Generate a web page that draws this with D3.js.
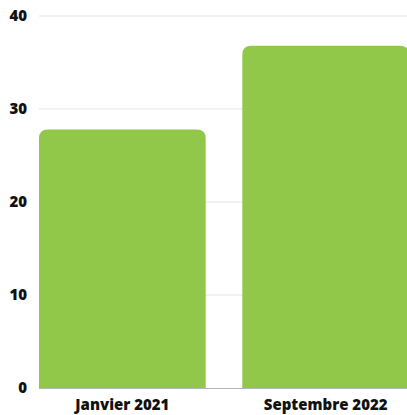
<!DOCTYPE html>
<html>
<head>
    <meta charset='utf-8'>
    <title>Bar Chart</title>
    <style type="text/css">
        body { margin: 0; background: #fff; }
        text { font-family: "Open Sans", sans-serif; font-weight: 800; fill: #111; }
        .grid line { stroke: #e3e3e3; stroke-width: 1; }
        .baseline { stroke: #b5b5b5; stroke-width: 1.2; }
        .bars path { fill: #92c84a; }
    </style>
</head>
<body>
    <script src="https://cdn.jsdelivr.net/npm/d3@7"></script>

    <div id="svgContainer"></div>

    <script type="text/javascript">

        const categories = ["Janvier 2021", "Septembre 2022"];
        const values = [27.8, 36.8];
        const yTicks = [0, 10, 20, 30, 40];

        const width = 407;
        const height = 415;

        const svg = d3.select("#svgContainer").append("svg")
            .attr("width", width)
            .attr("height", height);

        const x = d3.scaleBand()
            .domain(categories)
            .range([39, 409])
            .paddingInner(0.18)
            .paddingOuter(0);

        const y = d3.scaleLinear()
            .domain([0, 40])
            .range([388, 16]);

        // gridlines
        svg.append("g")
            .attr("class", "grid")
            .selectAll("line")
            .data(yTicks.filter(d => d > 0))
            .join("line")
            .attr("x1", 39)
            .attr("x2", width)
            .attr("y1", d => y(d))
            .attr("y2", d => y(d));

        // y labels
        svg.append("g")
            .selectAll("text")
            .data(yTicks)
            .join("text")
            .attr("x", 27)
            .attr("y", d => y(d))
            .attr("dy", "0.35em")
            .attr("text-anchor", "end")
            .style("font-size", "15px")
            .text(d => d);

        // rounded-top bars
        const r = 9;
        svg.append("g")
            .attr("class", "bars")
            .selectAll("path")
            .data(values)
            .join("path")
            .attr("d", (d, i) => {
                const x0 = x(categories[i]);
                const x1 = x0 + x.bandwidth();
                const y0 = y(0);
                const y1 = y(d);
                return `M${x0},${y0}V${y1 + r}Q${x0},${y1} ${x0 + r},${y1}H${x1 - r}Q${x1},${y1} ${x1},${y1 + r}V${y0}Z`;
            });

        svg.append("line")
            .attr("class", "baseline")
            .attr("x1", 39)
            .attr("x2", width)
            .attr("y1", y(0) + 0.5)
            .attr("y2", y(0) + 0.5);

        // x labels
        svg.append("g")
            .selectAll("text")
            .data(categories)
            .join("text")
            .attr("x", d => x(d) + x.bandwidth() / 2)
            .attr("y", 405)
            .attr("dy", "0.35em")
            .attr("text-anchor", "middle")
            .style("font-size", "15px")
            .text(d => d);

    </script>
</body>
</html>
